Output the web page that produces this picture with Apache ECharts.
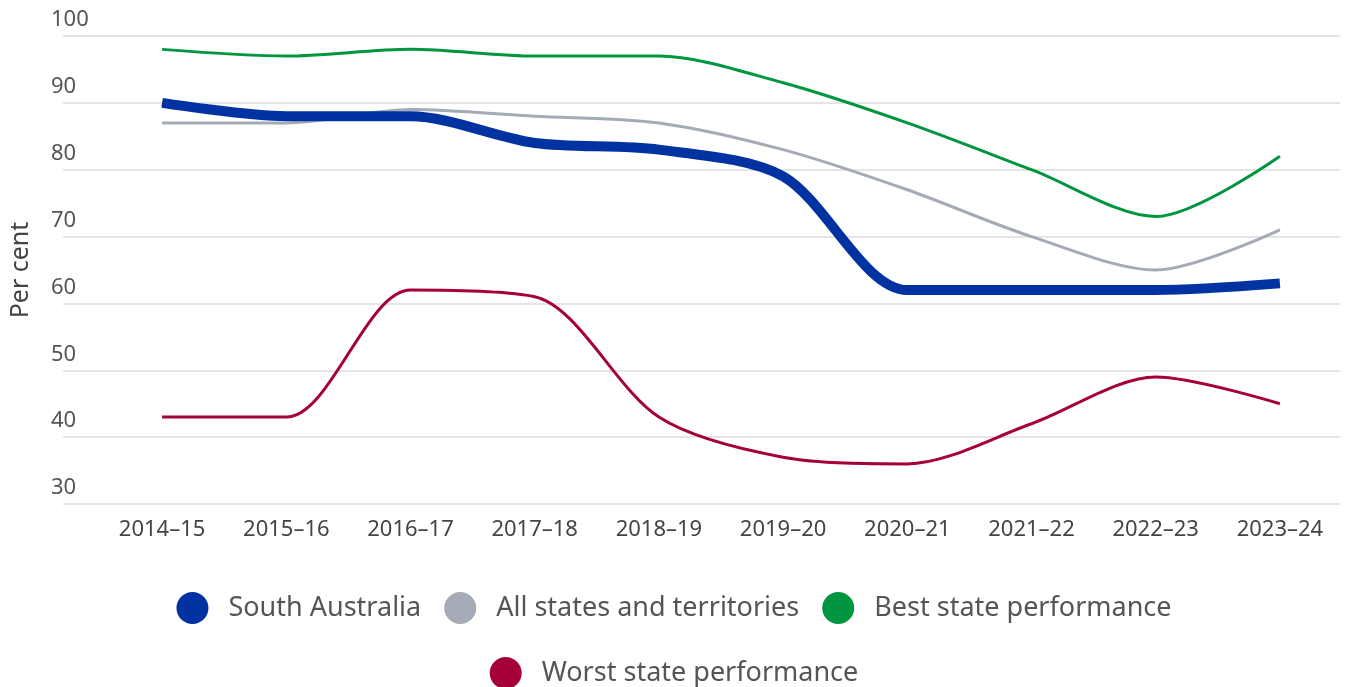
<!DOCTYPE html>
<html>
<head>
<meta charset="utf-8">
<script src="https://cdn.jsdelivr.net/npm/echarts@6/dist/echarts.min.js"></script>
<style>
html,body{margin:0;padding:0;background:#fff;}
#chart{width:1348px;height:687px;}
</style>
</head>
<body>
<div id="chart"></div>
<script>
const categories = ['2014\u201315','2015\u201316','2016\u201317','2017\u201318','2018\u201319','2019\u201320','2020\u201321','2021\u201322','2022\u201323','2023\u201324'];
const southAustralia = [90, 88, 88, 84, 83, 79, 62, 62, 62, 63];
const allStates = [87, 87, 89, 88, 87, 83, 77, 70, 65, 71];
const bestState = [98, 97, 98, 97, 97, 93, 87, 80, 73, 82];
const worstState = [43, 43, 62, 61, 43, 37, 36, 42, 49, 45];
const yTicks = {min: 30, max: 100, interval: 10};

const FONT = '"Noto Sans", sans-serif';
const chart = echarts.init(document.getElementById('chart'));
const names = ['South Australia','All states and territories','Best state performance','Worst state performance'];
const colors = ['#0033A1','#A4ABB6','#00963F','#A6003A'];
const datasets = [southAustralia, allStates, bestState, worstState];
const widths = [10, 3, 3, 3];

const legendText = {color: '#555', fontSize: 27, fontFamily: FONT, padding: [0,0,0,15]};

chart.setOption({
  animation: false,
  color: colors,
  textStyle: {fontFamily: FONT},
  grid: [
    {left: 48, right: 8, top: 36, bottom: 183},
    {left: 100, right: 6, top: 36, bottom: 183}
  ],
  xAxis: [
    {gridIndex: 0, type: 'category', data: categories, show: false},
    {gridIndex: 1, type: 'category', data: categories, boundaryGap: true,
     axisLine: {show: false}, axisTick: {show: false}, splitLine: {show: false},
     axisLabel: {color: '#444', fontSize: 22, margin: 15, fontFamily: FONT}}
  ],
  yAxis: [
    {gridIndex: 0, type: 'value', min: yTicks.min, max: yTicks.max, interval: yTicks.interval,
     axisLine: {show: false}, axisTick: {show: false},
     splitLine: {show: true, lineStyle: {color: '#dcdcdc', width: 1.5}},
     axisLabel: {inside: true, align: 'left', verticalAlign: 'bottom', margin: -12, padding: [0,0,5,0], color: '#555', fontSize: 22, fontFamily: FONT},
     name: 'Per cent', nameLocation: 'middle', nameRotate: 90, nameGap: 30,
     nameTextStyle: {color: '#444', fontSize: 25, fontFamily: FONT}},
    {gridIndex: 1, type: 'value', min: yTicks.min, max: yTicks.max, interval: yTicks.interval, show: false, splitLine: {show: false}}
  ],
  legend: [
    {data: names.slice(0,3), left: 'center', top: 592, padding: 0, icon: 'circle', itemWidth: 32, itemHeight: 32, itemGap: 23,
     textStyle: legendText},
    {data: names.slice(3), left: 'center', top: 657, padding: 0, icon: 'circle', itemWidth: 32, itemHeight: 32, itemGap: 23,
     textStyle: legendText}
  ],
  series: datasets.map((d, i) => ({
    name: names[i], type: 'line', data: d, xAxisIndex: 1, yAxisIndex: 1,
    smooth: 0.3, symbol: 'none', z: 10 - i,
    lineStyle: {width: widths[i], color: colors[i], cap: 'butt'},
    itemStyle: {color: colors[i]}
  }))
});
</script>
</body>
</html>
